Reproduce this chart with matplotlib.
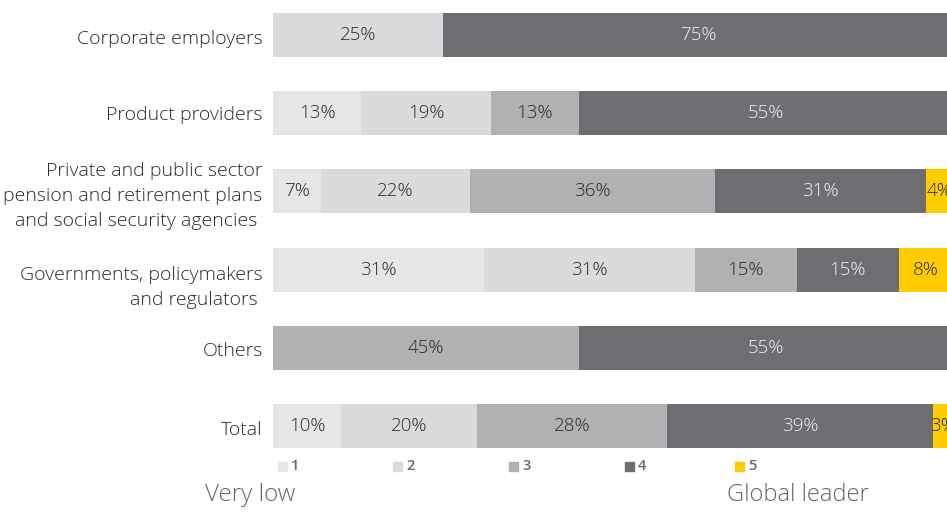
import matplotlib.pyplot as plt
from matplotlib.patches import Rectangle

plt.rcParams['font.family'] = ['Open Sans', 'DejaVu Sans']

categories = ['Corporate employers',
              'Product providers',
              'Private and public sector\npension and retirement plans\nand social security agencies ',
              'Governments, policymakers\nand regulators ',
              'Others',
              'Total']
levels = ['1', '2', '3', '4', '5']
values = {
    '1': [0, 13, 7, 31, 0, 10],
    '2': [25, 19, 22, 31, 0, 20],
    '3': [0, 13, 36, 15, 45, 28],
    '4': [75, 55, 31, 15, 55, 39],
    '5': [0, 0, 4, 8, 0, 3],
}
colors = ['#e6e6e7', '#dadbdc', '#b1b1b3', '#6d6e71', '#ffcc00']
text_colors = ['#2a2a2a', '#2a2a2a', '#2a2a2a', '#f2f2f2', '#2a2a2a']
# vertical nudge of each category label below its bar centre, in pixels
label_drop = [4, 2, 5, 18, 3, 4]

W, H = 947, 531
fig = plt.figure(figsize=(W / 100, H / 100), dpi=100)
ax = fig.add_axes([273 / W, 1 - 448 / H, 1 - 273 / W, 435 / H])

bar_h = 0.564
ypos = list(range(len(categories)))
left = [0] * len(categories)
for lvl, col, tcol in zip(levels, colors, text_colors):
    vals = values[lvl]
    ax.barh(ypos, vals, left=left, height=bar_h, color=col, linewidth=0)
    for y, v, l in zip(ypos, vals, left):
        if v > 0:
            ax.text(l + v / 2, y, f'{v}%', ha='center', va='center',
                    fontsize=13.5, color=tcol, fontweight='light')
    left = [a + b for a, b in zip(left, vals)]

for y, name, dy in zip(ypos, categories, label_drop):
    ax.annotate(name, xy=(0, y), xycoords=('axes fraction', 'data'),
                xytext=(-7.5, -dy * 0.72), textcoords='offset points',
                ha='right', va='center', ma='right', fontsize=14,
                color='#2a2a2a', fontweight='light', linespacing=1.5,
                annotation_clip=False)

ax.set_xlim(0, 99.1)
ax.set_ylim(len(categories) - 1 + bar_h / 2, -bar_h / 2)
ax.set_xticks([])
ax.set_yticks([])
for s in ax.spines.values():
    s.set_visible(False)

# legend row
leg_x = [278, 393, 509, 625, 735]
for x, lvl, col in zip(leg_x, levels, colors):
    fig.patches.append(Rectangle((x / W, 1 - 471 / H), 9 / W, 9 / H,
                                 transform=fig.transFigure, color=col))
    fig.text((x + 13) / W, 1 - 466 / H, lvl, fontsize=10.5, color='#666666',
             fontweight='semibold', va='center', ha='left')
fig.text(205 / W, 1 - 495 / H, 'Very low', fontsize=17.5, color='#666666',
         fontweight='light', va='center', ha='left')
fig.text(727 / W, 1 - 495 / H, 'Global leader', fontsize=17, color='#666666',
         fontweight='light', va='center', ha='left')

fig.savefig('out.png', dpi=100)
